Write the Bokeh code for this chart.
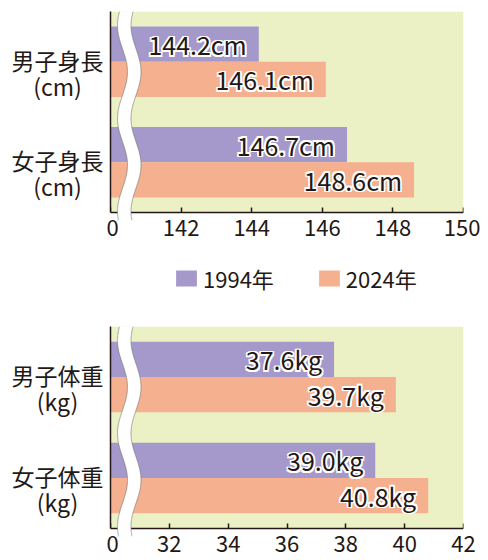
import numpy as np
from bokeh.plotting import figure
from bokeh.models import (Range1d, FixedTicker, PolyAnnotation, Legend,
                          LegendItem, ColumnDataSource, BoxAnnotation,
                          LinearAxis)
from bokeh.layouts import column, row
from bokeh.core.properties import value
from bokeh.embed import file_html
from bokeh.resources import INLINE

# ---- data ----
height_categories = ["男子身長", "女子身長"]
height_units = ["(cm)", "(cm)"]
height_1994 = [144.2, 146.7]
height_2024 = [146.1, 148.6]
height_ticks = [140, 142, 144, 146, 148, 150]
height_tick_labels = ["0", "142", "144", "146", "148", "150"]

weight_categories = ["男子体重", "女子体重"]
weight_units = ["(kg)", "(kg)"]
weight_1994 = [37.6, 39.0]
weight_2024 = [39.7, 40.8]
weight_ticks = [30, 32, 34, 36, 38, 40, 42]
weight_tick_labels = ["0", "32", "34", "36", "38", "40", "42"]

series_names = ["1994年", "2024年"]

PURPLE = "#A599CB"
ORANGE = "#F4B08F"
GREEN = "#EBF1C4"
INK = "#231815"
FONT = value("Noto Sans CJK JP")

LABEL_W = 106
MAIN_W = 374
FRAME_W = 353
EXT = 8  # px the axis-break band runs below the x axis


def clean(p):
    p.outline_line_color = None
    p.grid.visible = False
    p.border_fill_color = "white"
    p.background_fill_color = "white"


def make_panel(cats, units, v94, v24, ticks, tick_labels, suffix,
               top_b, frame_h, bot_b):
    x0, x1 = ticks[0], ticks[-1]
    H = top_b + frame_h + EXT + bot_b
    pxy = frame_h / 2.0
    ymin = -EXT / pxy
    n = len(cats)
    centers = [n - 0.5 - i for i in range(n)]  # first category at top

    # ---- category label column ----
    lab = figure(width=LABEL_W, height=H, x_range=Range1d(0, LABEL_W),
                 y_range=Range1d(ymin, 2), x_axis_type=None, y_axis_type=None,
                 output_backend="svg", toolbar_location=None,
                 min_border_left=0, min_border_right=0,
                 min_border_top=top_b, min_border_bottom=bot_b)
    clean(lab)
    lsrc = ColumnDataSource(dict(x=[57] * n, y=centers, name=cats, unit=units))
    lab.text(x="x", y="y", text="name", source=lsrc, y_offset=-2,
             text_align="center", text_baseline="middle", text_font=FONT,
             text_font_size="23px", text_color=INK)
    lab.text(x="x", y="y", text="unit", source=lsrc, y_offset=24,
             text_align="center", text_baseline="middle", text_font=FONT,
             text_font_size="23px", text_color=INK)

    # ---- main plot ----
    p = figure(width=MAIN_W, height=H, x_range=Range1d(x0, x1),
               y_range=Range1d(ymin, 2),
               output_backend="svg", toolbar_location=None,
               min_border_left=MAIN_W - FRAME_W - 17, min_border_right=17,
               min_border_top=top_b, min_border_bottom=bot_b)
    clean(p)
    p.add_layout(BoxAnnotation(bottom=0, fill_color=GREEN, fill_alpha=1,
                               line_alpha=0, level="underlay"))

    bh = 0.35
    src = ColumnDataSource(dict(
        y94=[c + bh / 2 for c in centers], y24=[c - bh / 2 for c in centers],
        v94=v94, v24=v24, left=[x0] * n,
        t94=["{:.1f}{}".format(v, suffix) for v in v94],
        t24=["{:.1f}{}".format(v, suffix) for v in v24]))
    p.hbar(y="y94", left="left", right="v94", height=bh, source=src,
           fill_color=PURPLE, line_color=None)
    p.hbar(y="y24", left="left", right="v24", height=bh, source=src,
           fill_color=ORANGE, line_color=None)
    halo = [(dx, dy) for dx in (-1.6, 0, 1.6) for dy in (-1.6, 0, 1.6)
            if (dx, dy) != (0, 0)]
    for yk, vk, tk in (("y94", "v94", "t94"), ("y24", "v24", "t24")):
        for dx, dy in halo:
            p.text(x=vk, y=yk, text=tk, source=src, x_offset=-12 + dx,
                   y_offset=dy, text_align="right", text_baseline="middle",
                   text_font=FONT, text_font_size="25px", text_color="white")
        p.text(x=vk, y=yk, text=tk, source=src, x_offset=-12,
               text_align="right", text_baseline="middle",
               text_font=FONT, text_font_size="25px", text_color=INK)

    # x axis line + inward ticks (drawn as unlabeled minor ticks) at y=0
    ax = p.xaxis[0]
    ax.fixed_location = 0
    ax.ticker = FixedTicker(ticks=[], minor_ticks=ticks)
    ax.major_tick_line_color = None
    ax.minor_tick_in = 5
    ax.minor_tick_out = 0
    ax.minor_tick_line_color = INK
    ax.minor_tick_line_width = 1.5
    ax.axis_line_color = INK
    ax.axis_line_width = 1.5
    ax.major_label_standoff = 0

    # tick labels on a second axis in the border area
    lab_ax = LinearAxis(ticker=FixedTicker(ticks=ticks),
                        major_label_overrides={t: l for t, l in
                                               zip(ticks, tick_labels)},
                        axis_line_color=None, major_tick_line_color=None,
                        minor_tick_line_color=None, major_tick_in=0,
                        major_tick_out=0, major_label_standoff=-1,
                        major_label_text_font="Noto Sans CJK JP",
                        major_label_text_font_size="22px",
                        major_label_text_color=INK)
    p.add_layout(lab_ax, "below")

    ay = p.yaxis[0]
    ay.bounds = (0, 2)
    ay.ticker = FixedTicker(ticks=[])
    ay.minor_tick_line_color = None
    ay.major_tick_line_color = None
    ay.major_tick_in = 0
    ay.major_tick_out = 0
    ay.major_label_standoff = 0
    ay.axis_line_color = INK
    ay.axis_line_width = 1.5

    # axis break (wavy white band), pixel shape converted to data units
    pxx = FRAME_W / (x1 - x0)
    yr = np.linspace(0, frame_h + EXT, 160)
    lx = 12 - 5 * np.cos(2 * np.pi * (yr - 14) / 93)
    rx = lx + 13.5
    yd = list(2 - yr / pxy)
    ld = list(x0 + lx / pxx)
    rd = list(x0 + rx / pxx)
    p.add_layout(PolyAnnotation(xs=ld + rd[::-1], ys=yd + yd[::-1],
                                fill_color="white", fill_alpha=1,
                                line_alpha=0, level="overlay"))
    for edge in (ld, rd):
        p.add_layout(PolyAnnotation(xs=edge + edge[::-1], ys=yd + yd[::-1],
                                    fill_alpha=0, line_color="#707070",
                                    line_width=1, level="overlay"))
    return row(lab, p, spacing=0)


top = make_panel(height_categories, height_units, height_1994, height_2024,
                 height_ticks, height_tick_labels, "cm", 11, 201, 32)

# ---- legend strip ----
lg = figure(width=LABEL_W + MAIN_W, height=60, x_axis_type=None,
            y_axis_type=None, x_range=Range1d(0, 1), y_range=Range1d(0, 1),
            output_backend="svg", toolbar_location=None,
            min_border=0)
clean(lg)
r1 = lg.hbar(y=[-5], left=[-5], right=[-4], height=1, fill_color=PURPLE,
             line_color=None)
r2 = lg.hbar(y=[-5], left=[-5], right=[-4], height=1, fill_color=ORANGE,
             line_color=None)
legend = Legend(items=[LegendItem(label=series_names[0], renderers=[r1]),
                       LegendItem(label=series_names[1], renderers=[r2])],
                orientation="horizontal", location=(173, 18),
                glyph_width=26, glyph_height=20, label_standoff=4, spacing=42,
                label_text_font="Noto Sans CJK JP", label_text_font_size="22px",
                label_text_color=INK, border_line_alpha=0,
                background_fill_alpha=0, padding=0, margin=0)
lg.add_layout(legend)

bottom = make_panel(weight_categories, weight_units, weight_1994, weight_2024,
                    weight_ticks, weight_tick_labels, "kg", 14, 202, 24)

layout = column(top, lg, bottom, spacing=0)
open("out.html", "w").write(file_html(layout, INLINE))
